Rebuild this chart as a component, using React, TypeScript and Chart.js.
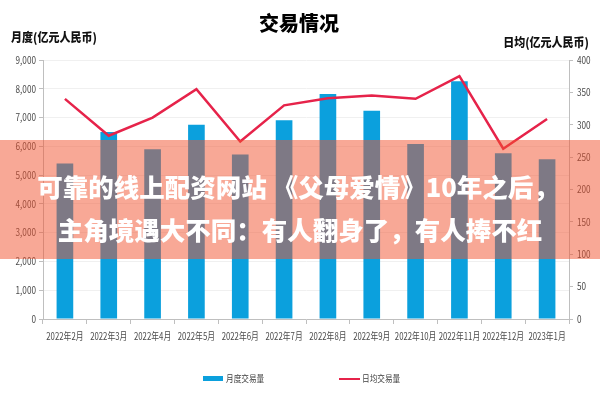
import React, { useEffect, useRef } from "react";
import { Chart, registerables } from "chart.js";

Chart.register(...registerables);

const categories = [
  "2022年2月", "2022年3月", "2022年4月", "2022年5月", "2022年6月", "2022年7月",
  "2022年8月", "2022年9月", "2022年10月", "2022年11月", "2022年12月", "2023年1月",
];
const monthlyVolume = [5400, 6500, 5900, 6750, 5720, 6910, 7820, 7240, 6080, 8260, 5760, 5550];
const dailyAverage = [340, 283, 311, 355, 274, 330, 341, 345, 340, 375, 263, 309];

const chartTitle = "交易情况";
const leftAxisTitle = "月度(亿元人民币)";
const rightAxisTitle = "日均(亿元人民币)";
const barLabel = "月度交易量";
const lineLabel = "日均交易量";
const overlayLines = [
  "可靠的线上配资网站 《父母爱情》10年之后，",
  "主角境遇大不同：有人翻身了，有人捧不红",
];

const BLUE = "#0BA0DD";
const RED = "#E6234A";
const AXIS = "#BFBFBF";
const TICK_TEXT = "#4A4A4A";
const CJK = "'Noto Sans CJK SC', sans-serif";

function condensed(
  ctx: CanvasRenderingContext2D,
  text: string,
  x: number,
  y: number,
  sx: number,
  align: CanvasTextAlign
) {
  ctx.save();
  ctx.translate(x, y);
  ctx.scale(sx, 1);
  ctx.textAlign = align;
  ctx.textBaseline = "middle";
  ctx.fillText(text, 0, 0);
  ctx.restore();
}

const decorPlugin = {
  id: "decor",
  afterDraw(chart: any) {
    const ctx = chart.ctx as CanvasRenderingContext2D;
    ctx.save();
    // Tick labels (condensed, positioned by the library's scales)
    ctx.fillStyle = TICK_TEXT;
    ctx.font = `10px ${CJK}`;
    const xs = chart.scales.x;
    xs.ticks.forEach((t: any, i: number) => {
      const px = xs.getPixelForTick(i);
      condensed(ctx, String(categories[t.value] ?? t.label), px, 336, 0.78, "center");
    });
    const yl = chart.scales.y;
    yl.ticks.forEach((t: any) => {
      const py = yl.getPixelForValue(t.value);
      condensed(ctx, Number(t.value).toLocaleString("en-US"), yl.right - 7, py, 0.82, "right");
    });
    const yr = chart.scales.y1;
    yr.ticks.forEach((t: any) => {
      const py = yr.getPixelForValue(t.value);
      condensed(ctx, String(t.value), yr.left + 8, py, 0.82, "left");
    });
    // Title
    ctx.fillStyle = "#000";
    ctx.font = `900 20px ${CJK}`;
    condensed(ctx, chartTitle, 299, 23, 1.0, "center");
    // Axis titles
    ctx.font = `900 12.5px ${CJK}`;
    ctx.fillStyle = "#111";
    condensed(ctx, leftAxisTitle, 11, 37, 0.88, "left");
    condensed(ctx, rightAxisTitle, 589, 42, 0.88, "right");
    // Legend
    ctx.font = `9px ${CJK}`;
    ctx.fillStyle = BLUE;
    ctx.fillRect(203, 376, 20, 5);
    ctx.fillStyle = "#404040";
    condensed(ctx, barLabel, 226, 379, 0.85, "left");
    ctx.strokeStyle = RED;
    ctx.lineWidth = 2;
    ctx.beginPath();
    ctx.moveTo(339, 379);
    ctx.lineTo(360, 379);
    ctx.stroke();
    condensed(ctx, lineLabel, 362, 379, 0.85, "left");
    // Overlay band
    ctx.fillStyle = "rgba(242,82,45,0.5)";
    ctx.fillRect(0, 140, 600, 119);
    ctx.fillStyle = "#FFFFFF";
    ctx.font = `900 25.5px ${CJK}`;
    condensed(ctx, overlayLines[0], 298, 187, 1.0, "center");
    condensed(ctx, overlayLines[1], 300, 230, 1.0, "center");
    ctx.restore();
  },
};

export default function App() {
  const canvasRef = useRef<HTMLCanvasElement | null>(null);

  useEffect(() => {
    document.body.style.margin = "0";
    const canvas = canvasRef.current;
    if (!canvas) return;
    const chart = new Chart(canvas, {
      type: "bar",
      data: {
        labels: categories,
        datasets: [
          {
            type: "line",
            label: lineLabel,
            data: dailyAverage,
            yAxisID: "y1",
            borderColor: RED,
            backgroundColor: RED,
            borderWidth: 2.5,
            pointRadius: 0,
            tension: 0,
            order: 0,
          } as any,
          {
            type: "bar",
            label: barLabel,
            data: monthlyVolume,
            yAxisID: "y",
            backgroundColor: BLUE,
            barPercentage: 0.38,
            categoryPercentage: 1,
            order: 1,
          },
        ],
      },
      options: {
        responsive: false,
        animation: false,
        layout: { padding: { top: 60, bottom: 51, left: 0, right: 0 } },
        plugins: {
          legend: { display: false },
          title: { display: false },
          tooltip: { enabled: false },
        },
        scales: {
          x: {
            grid: {
              display: true,
              drawOnChartArea: false,
              tickLength: 5,
              tickColor: AXIS,
              offset: true,
            },
            border: { color: AXIS, width: 1 },
            ticks: { display: false, autoSkip: false, maxRotation: 0 },
            afterFit: (scale: any) => {
              scale.height = 30;
            },
          },
          y: {
            position: "left",
            min: 0,
            max: 9000,
            ticks: { stepSize: 1000, display: false },
            grid: { color: "#F0F0F0", tickColor: AXIS, tickLength: 4 },
            border: { color: AXIS, width: 1 },
            afterFit: (scale: any) => {
              scale.width = 43;
            },
          },
          y1: {
            position: "right",
            min: 0,
            max: 400,
            ticks: { stepSize: 50, display: false },
            grid: { drawOnChartArea: false, tickColor: AXIS, tickLength: 4 },
            border: { color: AXIS, width: 1 },
            afterFit: (scale: any) => {
              scale.width = 31;
            },
          },
        },
      },
      plugins: [decorPlugin],
    });
    return () => chart.destroy();
  }, []);

  return (
    <div style={{ width: 600, height: 400, position: "relative", background: "#fff" }}>
      <canvas ref={canvasRef} width={600} height={400} />
    </div>
  );
}
